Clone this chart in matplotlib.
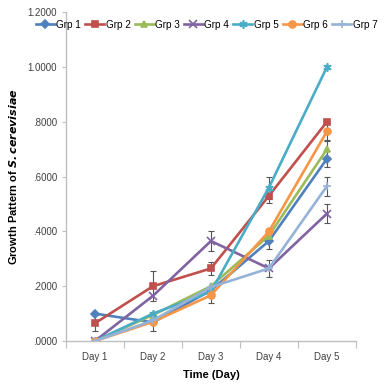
import matplotlib
matplotlib.use("Agg")
import matplotlib.pyplot as plt
import numpy as np

days = ["Day 1", "Day 2", "Day 3", "Day 4", "Day 5"]
groups = ["Grp 1", "Grp 2", "Grp 3", "Grp 4", "Grp 5", "Grp 6", "Grp 7"]

grp1 = [0.100, 0.068, 0.185, 0.365, 0.665]
grp2 = [0.065, 0.200, 0.265, 0.530, 0.800]
grp3 = [0.000, 0.095, 0.200, 0.385, 0.700]
grp4 = [0.000, 0.165, 0.365, 0.265, 0.465]
grp5 = [0.000, 0.100, 0.180, 0.560, 1.000]
grp6 = [0.000, 0.070, 0.167, 0.400, 0.765]
grp7 = [0.000, 0.075, 0.197, 0.265, 0.565]

err1 = [0.0, 0.0, 0.0, 0.030, 0.030]
err2 = [0.030, 0.055, 0.025, 0.025, 0.0]
err3 = [0.0, 0.0, 0.0, 0.0, 0.030]
err4 = [0.0, 0.0, 0.035, 0.030, 0.035]
err5 = [0.0, 0.0, 0.0, 0.040, 0.0]
err6 = [0.0, 0.035, 0.030, 0.0, 0.030]
err7 = [0.0, 0.0, 0.0, 0.0, 0.035]

series = [grp1, grp2, grp3, grp4, grp5, grp6, grp7]
errors = [err1, err2, err3, err4, err5, err6, err7]
colors = ["#4F81BD", "#C0504D", "#9BBB59", "#8064A2", "#4BACC6", "#F79646", "#95B3D7"]
markers = ["D", "s", "^", "x", (6, 2, 0), "o", "+"]
msizes = [4, 5, 5, 5.5, 6, 5, 6]

plt.rcParams['font.family'] = ['Liberation Sans', 'DejaVu Sans']

fig = plt.figure(figsize=(3.86, 3.90), dpi=100)
ax = fig.add_axes([0.171, 0.1256, 0.751, 0.843])

x = np.arange(len(days))
handles = []
for vals, err, c, m, ms, name in zip(series, errors, colors, markers, msizes, groups):
    e = np.array(err)
    idx = e > 0
    if idx.any():
        ax.errorbar(x[idx], np.array(vals)[idx], yerr=e[idx], fmt='none',
                    ecolor='#555555', elinewidth=0.8, capsize=2.5, capthick=0.8, zorder=1)
    h, = ax.plot(x, vals, color=c, lw=1.9, marker=m, ms=ms, mew=1.2,
                 mfc=c, mec=c, label=name, zorder=2)
    handles.append(h)

ax.set_xlim(-0.5, 4.5)
ax.set_ylim(0, 1.2)
ax.set_yticks(np.arange(0, 1.21, 0.2))
def fmt(v):
    s = "%.4f" % v
    return s[1:] if s.startswith("0") else s
ax.set_yticklabels([fmt(v) for v in np.arange(0, 1.21, 0.2)])

ax.set_xticks(np.arange(-0.5, 4.51, 1.0))
ax.set_xticklabels([])
ax.set_xticks(x, minor=True)
ax.set_xticklabels(days, minor=True)
ax.tick_params(axis='x', which='major', length=5, color='#BFBFBF', direction='out')
ax.tick_params(axis='x', which='minor', length=0, pad=8, labelsize=7, labelcolor='#404040')
ax.tick_params(axis='y', length=3, color='#BFBFBF', labelsize=7, labelcolor='#404040')

for s in ['top', 'right']:
    ax.spines[s].set_visible(False)
for s in ['left', 'bottom']:
    ax.spines[s].set_color('#BFBFBF')
    ax.spines[s].set_linewidth(1.0)

ax.set_xlabel("Time (Day)", fontsize=8, fontweight='bold', labelpad=6)
ax.set_ylabel("Growth Pattern of $\\bfit{S.cerevisiae}$", fontsize=8, fontweight='bold', labelpad=6)

fig.legend(handles=handles, loc='center', bbox_to_anchor=(0.535, 0.936), ncol=7,
           frameon=False, fontsize=7.2, handlelength=1.9, handletextpad=0.15,
           columnspacing=0.4, borderaxespad=0, borderpad=0)

fig.savefig("out.png", dpi=100)
